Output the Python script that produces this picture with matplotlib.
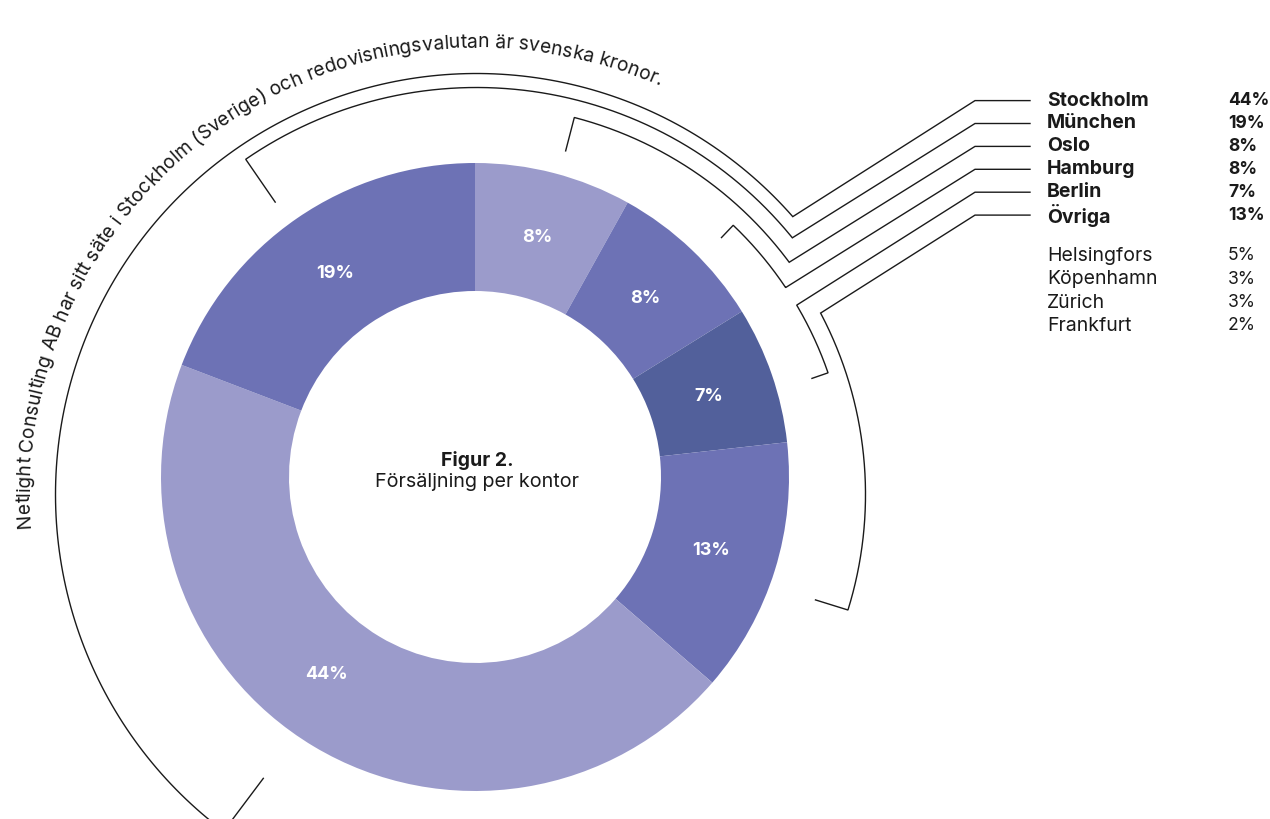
import matplotlib
matplotlib.use("Agg")
import matplotlib.pyplot as plt
import numpy as np
from matplotlib.font_manager import FontProperties

# --- data -------------------------------------------------------------
# donut segments, clockwise from 12 o'clock
offices = ["Oslo", "Hamburg", "Berlin", "Övriga", "Stockholm", "München"]
shares = [8, 8, 7, 13, 44, 19]

legend_names = ["Stockholm", "München", "Oslo", "Hamburg", "Berlin", "Övriga"]
other_names = ["Helsingfors", "Köpenhamn", "Zürich", "Frankfurt"]
other_shares = [5, 3, 3, 2]

title = "Figur 2."
subtitle = "Försäljning per kontor"
note = ("Netlight Consulting AB har sitt säte i Stockholm (Sverige) "
        "och redovisningsvalutan är svenska kronor.")

# --- style / layout ---------------------------------------------------
W, H = 1270, 819
FONT = "Inter"
plt.rcParams["font.family"] = [FONT, "DejaVu Sans"]

LIGHT, MID, DARK = "#9b9bcb", "#6d72b5", "#52609b"
COLORS = {"Oslo": LIGHT, "Hamburg": MID, "Berlin": DARK,
          "Övriga": MID, "Stockholm": LIGHT, "München": MID}
INK = "#1a1a1a"

DONUT_C = (475, H - 477)
R_OUT, R_W = 314, 128
ARC_C = (476.5, H - 494.5)
TICK_R = 355
BRACKET_R = {"Stockholm": 421, "München": 407, "Oslo": 389.5,
             "Hamburg": 372, "Berlin": 372, "Övriga": 389}
BRACKET_END = {"Stockholm": 408.7, "München": 410.9, "Oslo": 53.4,
               "Hamburg": 56.2, "Berlin": 59.4, "Övriga": 62.2}
NUDGE = {"Stockholm": 6.0}  # designer shifted this label/tick a bit
R_TEXT = 447
NOTE_START, NOTE_LEN = 265.7, 924
NAME_FS, VAL_FS = 14, 12.6


def pol(c, theta, r):
    """theta in degrees, clockwise from top."""
    t = np.radians(theta)
    return c[0] + r * np.sin(t), c[1] + r * np.cos(t)


fig = plt.figure(figsize=(W / 100, H / 100), dpi=100)
ax = fig.add_axes([0, 0, 1, 1])

wedges, _, pct_texts = ax.pie(
    shares, colors=[COLORS[o] for o in offices], startangle=90,
    counterclock=False, center=DONUT_C, radius=R_OUT,
    wedgeprops=dict(width=R_W, linewidth=0),
    autopct=lambda p: f"{p:.0f}%", pctdistance=247 / R_OUT,
    textprops=dict(color="white", fontsize=13, fontweight="bold"),
)

total = sum(shares)
cum = np.cumsum(shares) / total * 360
mids = {o: cum[i] - shares[i] / total * 180 + NUDGE.get(o, 0)
        for i, o in enumerate(offices)}
for i, o in enumerate(offices):
    pct_texts[i].set_position(pol(DONUT_C, mids[o], 247))

ax.text(DONUT_C[0] + 2, H - 460, title, ha="center", va="center",
        fontsize=14, fontweight="bold", color=INK)
ax.text(DONUT_C[0] + 2, H - 482, subtitle, ha="center", va="center",
        fontsize=14.2, color=INK)

# brackets + legend
for i, name in enumerate(legend_names):
    r = BRACKET_R[name]
    a0, a1 = mids[name], BRACKET_END[name]
    ang = np.linspace(a0, a1, 200)
    xs, ys = pol(ARC_C, ang, r)
    tx, ty = pol(ARC_C, a0, TICK_R)
    row = H - (100.6 + 22.9 * i)
    px = np.concatenate([[tx], xs, [975, 1030]])
    py = np.concatenate([[ty], ys, [row, row]])
    ax.plot(px, py, color=INK, lw=1.0, solid_joinstyle="miter")
    val = shares[offices.index(name)]
    ax.text(1047, row, name, ha="left", va="center", fontsize=NAME_FS,
            fontweight="bold", color=INK)
    ax.text(1228, row, f"{val}%", ha="left", va="center", fontsize=VAL_FS,
            fontweight="bold", color=INK)

for j, (name, val) in enumerate(zip(other_names, other_shares)):
    row = H - (256 + 23.3 * j)
    ax.text(1047, row, name, ha="left", va="center", fontsize=NAME_FS,
            color=INK)
    ax.text(1228, row, f"{val}%", ha="left", va="center", fontsize=VAL_FS,
            color=INK)

# curved note along the outer arc
renderer = fig.canvas.get_renderer()
fp = FontProperties(family=FONT, size=13.5)


def text_w(s):
    return renderer.get_text_width_height_descent(s, fp, ismath=False)[0]


bar = text_w("|")
starts = np.array([text_w(note[:k] + "|") - bar for k in range(len(note) + 1)])
scale = NOTE_LEN / starts[-1]
size = 13.5 * scale
starts = starts * scale
for k, ch in enumerate(note):
    if ch == " ":
        continue
    s_mid = (starts[k] + starts[k + 1]) / 2
    th = NOTE_START + np.degrees(s_mid / R_TEXT)
    x, y = pol(ARC_C, th, R_TEXT)
    ax.text(x, y, ch, ha="center", va="baseline", rotation=(-th) % 360,
            rotation_mode="anchor", fontsize=size, color=INK)

ax.set_xlim(0, W)
ax.set_ylim(0, H)
ax.set_aspect("equal")
ax.axis("off")

fig.savefig("out.png", dpi=100, facecolor="white")
